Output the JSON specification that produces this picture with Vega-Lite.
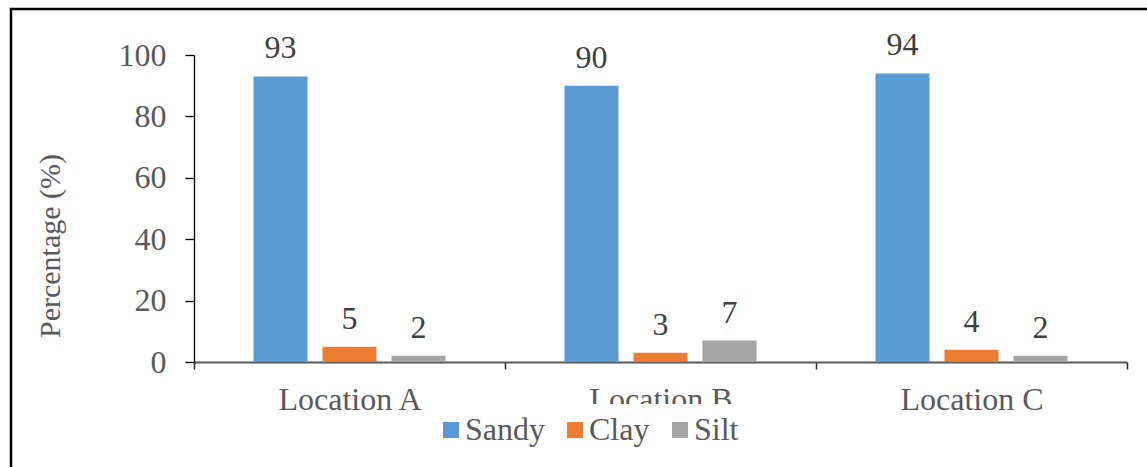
{
  "$schema": "https://vega.github.io/schema/vega-lite/v6.json",
  "width": 1136,
  "height": 458,
  "autosize": {"type": "none"},
  "padding": {"left": 11, "top": 9, "right": 0, "bottom": 0},
  "background": "white",
  "config": {
    "view": {"stroke": "#000000", "strokeWidth": 2.5, "strokeDash": [1136, 1594, 470]},
    "font": "Times New Roman, Liberation Serif, serif"
  },
  "data": {
    "values": [
      {"location": "Location A", "soil": "Sandy", "pct": 93},
      {"location": "Location A", "soil": "Clay", "pct": 5},
      {"location": "Location A", "soil": "Silt", "pct": 2},
      {"location": "Location B", "soil": "Sandy", "pct": 90},
      {"location": "Location B", "soil": "Clay", "pct": 3},
      {"location": "Location B", "soil": "Silt", "pct": 7},
      {"location": "Location C", "soil": "Sandy", "pct": 94},
      {"location": "Location C", "soil": "Clay", "pct": 4},
      {"location": "Location C", "soil": "Silt", "pct": 2}
    ]
  },
  "encoding": {
    "x": {
      "field": "location",
      "type": "nominal",
      "scale": {"range": [183, 1116], "paddingInner": 0, "paddingOuter": 0},
      "axis": {
        "title": null,
        "orient": "bottom",
        "offset": -105,
        "tickBand": "extent",
        "labelAngle": 0,
        "labelFont": "Times New Roman, Liberation Serif, serif",
        "labelFontSize": 32,
        "labelColor": "#595959",
        "labelBaseline": "alphabetic",
        "labelPadding": 40,
        "tickSize": 7,
        "tickColor": "#262626",
        "tickWidth": 1.5,
        "domainColor": "#595959",
        "domainWidth": 2
      }
    },
    "xOffset": {
      "field": "soil",
      "type": "nominal",
      "sort": ["Sandy", "Clay", "Silt"],
      "scale": {"paddingInner": 0.217, "paddingOuter": 0.862}
    },
    "y": {
      "field": "pct",
      "type": "quantitative",
      "scale": {"domain": [0, 100], "range": [353, 46]},
      "axis": {
        "title": "Percentage (%)",
        "offset": -183,
        "values": [0, 20, 40, 60, 80, 100],
        "grid": false,
        "tickSize": 9,
        "tickColor": "#000000",
        "tickWidth": 1.3,
        "domainColor": "#000000",
        "domainWidth": 1.3,
        "labelFont": "Times New Roman, Liberation Serif, serif",
        "labelFontSize": 32,
        "labelColor": "#595959",
        "labelPadding": 19,
        "titleFont": "Times New Roman, Liberation Serif, serif",
        "titleFontSize": 30,
        "titleFontWeight": "normal",
        "titleColor": "#595959",
        "titleAngle": -90,
        "titleAlign": "center",
        "titleBaseline": "middle",
        "titleX": -144,
        "titleY": 236.5
      }
    }
  },
  "layer": [
    {
      "mark": {"type": "bar"},
      "encoding": {
        "color": {
          "field": "soil",
          "type": "nominal",
          "scale": {"domain": ["Sandy", "Clay", "Silt"], "range": ["#5B9BD5", "#ED7D31", "#A5A5A5"]},
          "legend": {
            "title": null,
            "orient": "none",
            "legendX": 414,
            "legendY": 395,
            "direction": "horizontal",
            "fillColor": "white",
            "padding": 10,
            "symbolType": "square",
            "symbolSize": 256,
            "symbolStrokeWidth": 0,
            "labelFont": "Times New Roman, Liberation Serif, serif",
            "labelFontSize": 32,
            "labelColor": "#595959",
            "labelOffset": -2,
            "columnPadding": 14,
            "labelLimit": 0
          }
        }
      }
    },
    {
      "mark": {"type": "text", "dy": -18, "baseline": "alphabetic", "fontSize": 32, "color": "#404040", "font": "Times New Roman, Liberation Serif, serif"},
      "encoding": {"text": {"field": "pct", "type": "quantitative"}}
    }
  ]
}
